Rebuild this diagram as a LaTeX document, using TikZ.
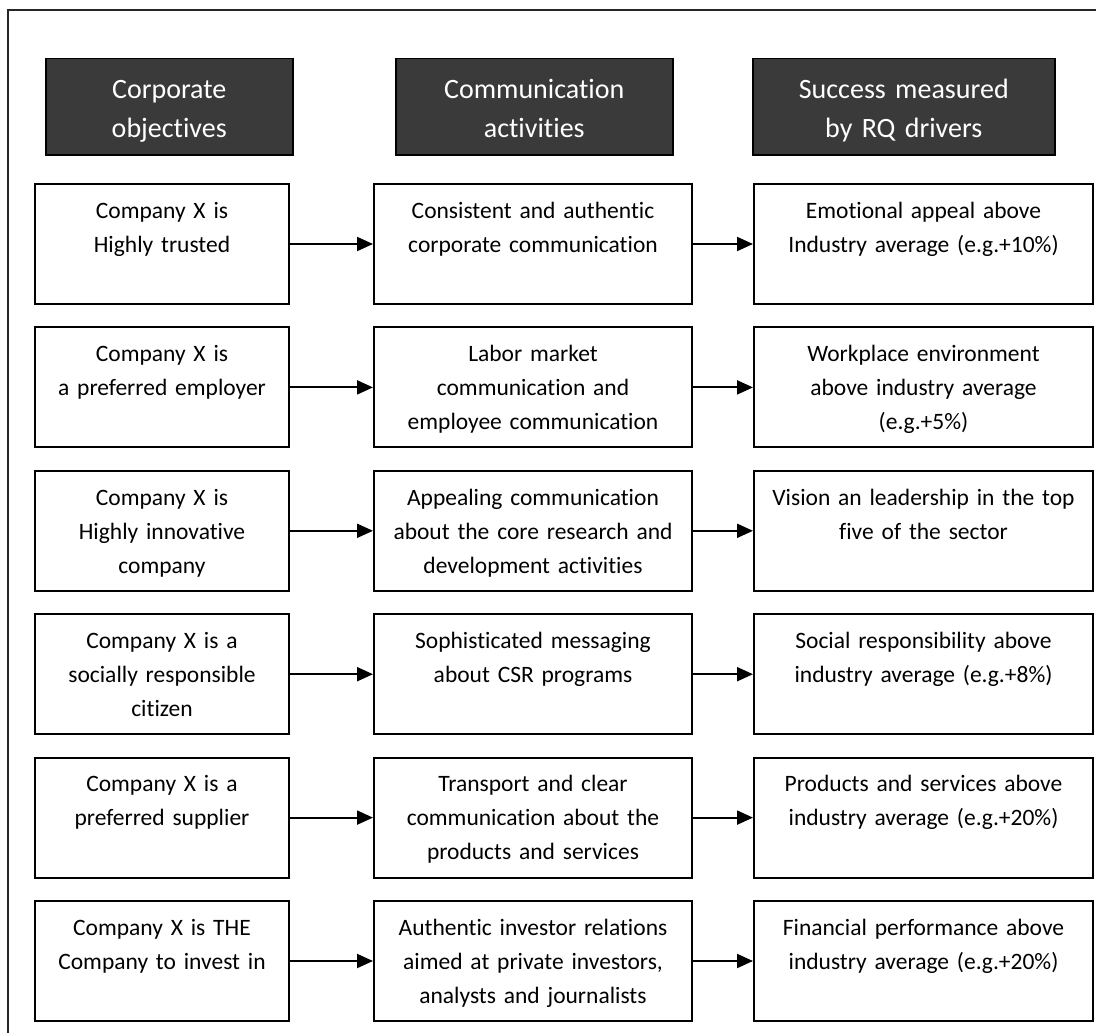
\documentclass[tikz,border=0pt]{standalone}
\usepackage{fontspec}
\setmainfont{Carlito}[RawFeature={-liga;-clig}]
\usetikzlibrary{arrows.meta}

\definecolor{headfill}{RGB}{58,58,58}

\tikzset{
  frameline/.style={line width=1.8pt, draw=black!85},
  headbox/.style={draw=black, fill=headfill, line width=1.5pt, minimum height=96pt,
    inner sep=0pt, anchor=north west},
  headtext/.style={text=white, anchor=north, inner sep=0pt, align=center,
    font=\fontsize{28}{39.5}\selectfont,
    execute at begin node={\parindent=0pt\rule{0pt}{28pt}}},
  itembox/.style={draw=black, line width=2pt, minimum height=120pt,
    inner sep=0pt, anchor=north west},
  itemtext/.style={anchor=north, inner sep=0pt, align=center,
    font=\fontsize{23.5}{34}\selectfont,
    execute at begin node={\parindent=0pt\rule{0pt}{24pt}}},
  flow/.style={line width=2pt, -{Triangle[length=16pt,width=14pt]}},
}

% one row: three boxes with their texts and the two arrows between them
\newcommand{\objrow}[5]{%
  \node[itembox, minimum width=254pt] (a#1) at (34,#2) {};
  \node[itemtext, text width=246pt] (ta#1) at ([yshift=-11pt]a#1.north) {#3};
  \node[itembox, minimum width=318pt] (b#1) at (373,#2) {};
  \node[itemtext, text width=310pt] (tb#1) at ([yshift=-11pt]b#1.north) {#4};
  \node[itembox, minimum width=339pt] (c#1) at (753,#2) {};
  \node[itemtext, text width=331pt] (tc#1) at ([yshift=-11pt]c#1.north) {#5};
  \draw[flow] (a#1.east) -- (b#1.west);
  \draw[flow] (b#1.east) -- (c#1.west);
}

\begin{document}
\begin{tikzpicture}[x=1pt,y=-1pt]
\useasboundingbox (0,0) rectangle (1096,1033);

% open frame: top and left edges only
\draw[frameline] (8,1040) -- (8,10) -- (1100,10);

% column headings
\node[headbox, minimum width=247pt] (h1) at (45,58) {};
\node[headtext, text width=240pt] (th1) at ([yshift=-12pt]h1.north) {Corporate\\objectives};
\node[headbox, minimum width=277pt] (h2) at (395,58) {};
\node[headtext, text width=270pt] (th2) at ([yshift=-12pt]h2.north) {Communication\\activities};
\node[headbox, minimum width=302pt] (h3) at (752,58) {};
\node[headtext, text width=295pt] (th3) at ([yshift=-12pt]h3.north) {Success measured\\by RQ drivers};

\objrow{1}{183}
  {Company X is\\Highly trusted}
  {Consistent and authentic\\corporate communication}
  {Emotional appeal above\\Industry average (e.g.+10\%)}
\objrow{2}{326.4}
  {Company X is\\a preferred employer}
  {Labor market\\communication and\\employee communication}
  {Workplace environment\\above industry average\\(e.g.+5\%)}
\objrow{3}{469.8}
  {Company X is\\Highly innovative\\company}
  {Appealing communication\\about the core research and\\development activities}
  {Vision an leadership in the top\\five of the sector}
\objrow{4}{613.2}
  {Company X is a\\socially responsible\\citizen}
  {Sophisticated messaging\\about CSR programs}
  {Social responsibility above\\industry average (e.g.+8\%)}
\objrow{5}{756.6}
  {Company X is a\\preferred supplier}
  {Transport and clear\\communication about the\\products and services}
  {Products and services above\\industry average (e.g.+20\%)}
\objrow{6}{900}
  {Company X is THE\\Company to invest in}
  {Authentic investor relations\\aimed at private investors,\\analysts and journalists}
  {Financial performance above\\industry average (e.g.+20\%)}
\end{tikzpicture}
\end{document}
